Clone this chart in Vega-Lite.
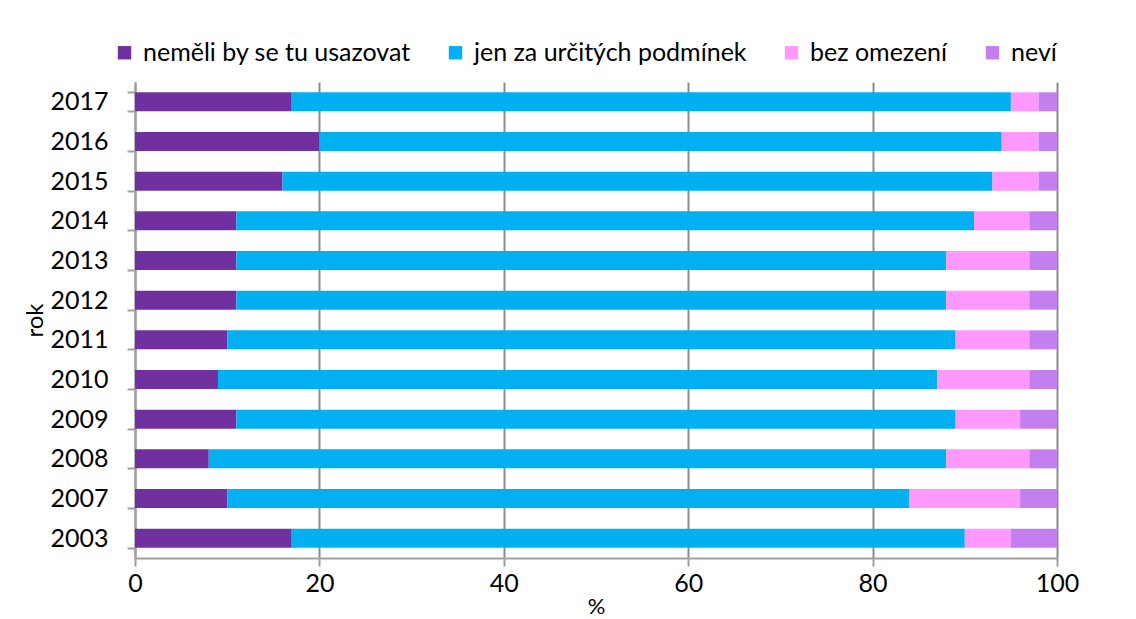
{
  "$schema": "https://vega.github.io/schema/vega-lite/v6.json",
  "autosize": "none",
  "width": 922,
  "height": 476,
  "padding": {"left": 135, "top": 82, "right": 79, "bottom": 61},
  "background": "white",
  "config": {
    "font": "Lato",
    "view": {"stroke": null},
    "axis": {"labelFont": "Lato", "titleFont": "Lato", "labelColor": "black", "titleColor": "black", "titleFontWeight": "normal"}
  },
  "data": {
    "values": [
      {"rok": "2017", "k": 1, "kat": "neměli by se tu usazovat", "v": 17},
      {"rok": "2017", "k": 2, "kat": "jen za určitých podmínek", "v": 78},
      {"rok": "2017", "k": 3, "kat": "bez omezení", "v": 3},
      {"rok": "2017", "k": 4, "kat": "neví", "v": 2},
      {"rok": "2016", "k": 1, "kat": "neměli by se tu usazovat", "v": 20},
      {"rok": "2016", "k": 2, "kat": "jen za určitých podmínek", "v": 74},
      {"rok": "2016", "k": 3, "kat": "bez omezení", "v": 4},
      {"rok": "2016", "k": 4, "kat": "neví", "v": 2},
      {"rok": "2015", "k": 1, "kat": "neměli by se tu usazovat", "v": 16},
      {"rok": "2015", "k": 2, "kat": "jen za určitých podmínek", "v": 77},
      {"rok": "2015", "k": 3, "kat": "bez omezení", "v": 5},
      {"rok": "2015", "k": 4, "kat": "neví", "v": 2},
      {"rok": "2014", "k": 1, "kat": "neměli by se tu usazovat", "v": 11},
      {"rok": "2014", "k": 2, "kat": "jen za určitých podmínek", "v": 80},
      {"rok": "2014", "k": 3, "kat": "bez omezení", "v": 6},
      {"rok": "2014", "k": 4, "kat": "neví", "v": 3},
      {"rok": "2013", "k": 1, "kat": "neměli by se tu usazovat", "v": 11},
      {"rok": "2013", "k": 2, "kat": "jen za určitých podmínek", "v": 77},
      {"rok": "2013", "k": 3, "kat": "bez omezení", "v": 9},
      {"rok": "2013", "k": 4, "kat": "neví", "v": 3},
      {"rok": "2012", "k": 1, "kat": "neměli by se tu usazovat", "v": 11},
      {"rok": "2012", "k": 2, "kat": "jen za určitých podmínek", "v": 77},
      {"rok": "2012", "k": 3, "kat": "bez omezení", "v": 9},
      {"rok": "2012", "k": 4, "kat": "neví", "v": 3},
      {"rok": "2011", "k": 1, "kat": "neměli by se tu usazovat", "v": 10},
      {"rok": "2011", "k": 2, "kat": "jen za určitých podmínek", "v": 79},
      {"rok": "2011", "k": 3, "kat": "bez omezení", "v": 8},
      {"rok": "2011", "k": 4, "kat": "neví", "v": 3},
      {"rok": "2010", "k": 1, "kat": "neměli by se tu usazovat", "v": 9},
      {"rok": "2010", "k": 2, "kat": "jen za určitých podmínek", "v": 78},
      {"rok": "2010", "k": 3, "kat": "bez omezení", "v": 10},
      {"rok": "2010", "k": 4, "kat": "neví", "v": 3},
      {"rok": "2009", "k": 1, "kat": "neměli by se tu usazovat", "v": 11},
      {"rok": "2009", "k": 2, "kat": "jen za určitých podmínek", "v": 78},
      {"rok": "2009", "k": 3, "kat": "bez omezení", "v": 7},
      {"rok": "2009", "k": 4, "kat": "neví", "v": 4},
      {"rok": "2008", "k": 1, "kat": "neměli by se tu usazovat", "v": 8},
      {"rok": "2008", "k": 2, "kat": "jen za určitých podmínek", "v": 80},
      {"rok": "2008", "k": 3, "kat": "bez omezení", "v": 9},
      {"rok": "2008", "k": 4, "kat": "neví", "v": 3},
      {"rok": "2007", "k": 1, "kat": "neměli by se tu usazovat", "v": 10},
      {"rok": "2007", "k": 2, "kat": "jen za určitých podmínek", "v": 74},
      {"rok": "2007", "k": 3, "kat": "bez omezení", "v": 12},
      {"rok": "2007", "k": 4, "kat": "neví", "v": 4},
      {"rok": "2003", "k": 1, "kat": "neměli by se tu usazovat", "v": 17},
      {"rok": "2003", "k": 2, "kat": "jen za určitých podmínek", "v": 73},
      {"rok": "2003", "k": 3, "kat": "bez omezení", "v": 5},
      {"rok": "2003", "k": 4, "kat": "neví", "v": 5}
    ]
  },
  "mark": {"type": "bar"},
  "encoding": {
    "y": {
      "field": "rok", "type": "ordinal", "sort": "descending",
      "scale": {"paddingInner": 0.52, "paddingOuter": 0.26},
      "axis": {
        "title": "rok", "titleFontSize": 24, "titlePadding": 2,
        "labelFontSize": 25, "labelPadding": 19, "tickSize": 8,
        "tickColor": "#a0a0a0", "tickWidth": 2, "domainColor": "#a0a0a0", "domainWidth": 2,
        "grid": false, "tickBand": "extent"
      }
    },
    "x": {
      "field": "v", "type": "quantitative", "stack": "zero",
      "scale": {"domain": [0, 100], "nice": false},
      "axis": {
        "title": "%", "titleFontSize": 22, "titlePadding": 0,
        "labelFontSize": 25, "labelPadding": 5, "tickSize": 8, "labelFlush": false,
        "values": [0, 20, 40, 60, 80, 100],
        "tickColor": "#a0a0a0", "tickWidth": 2, "domainColor": "#a0a0a0", "domainWidth": 2,
        "grid": true, "gridColor": "#8c8c8c", "gridWidth": 2
      }
    },
    "color": {
      "field": "kat", "type": "nominal",
      "scale": {
        "domain": ["neměli by se tu usazovat", "jen za určitých podmínek", "bez omezení", "neví"],
        "range": ["#7030A0", "#00B0F0", "#FF99FF", "#C47FEF"]
      },
      "legend": {
        "title": null, "orient": "none", "legendX": -23, "legendY": -42,
        "direction": "horizontal", "symbolType": "square", "symbolSize": 180,
        "symbolStrokeWidth": 0, "symbolOpacity": 1,
        "labelFontSize": 25, "labelFont": "Lato", "labelColor": "black",
        "labelLimit": 400, "columnPadding": 32, "labelOffset": 6
      }
    },
    "order": {"field": "k", "type": "quantitative"}
  }
}
